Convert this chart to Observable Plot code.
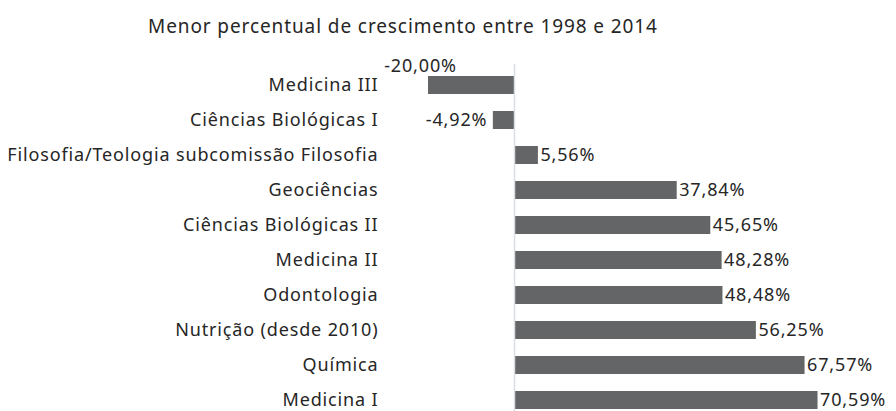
<!DOCTYPE html>
<html>
<head>
<meta charset="utf-8">
<script src="https://cdn.jsdelivr.net/npm/d3@7"></script>
<script src="https://cdn.jsdelivr.net/npm/@observablehq/plot@0.6"></script>
<style>
  html, body { margin: 0; padding: 0; background: #fff; overflow: hidden; }
  #title { font-family: "Noto Sans", sans-serif; font-size: 19px; letter-spacing: 0.9px; color: #262626; height: 50px; width: 896px; position: relative; }
  #title span { position: absolute; left: 148px; top: 13px; white-space: nowrap; }
  #chart svg text { letter-spacing: 0.85px; }
</style>
</head>
<body>
<div id="title"><span>Menor percentual de crescimento entre 1998 e 2014</span></div>
<div id="chart"></div>
<script>
const categories = [
  "Medicina III",
  "Ciências Biológicas I",
  "Filosofia/Teologia subcomissão Filosofia",
  "Geociências",
  "Ciências Biológicas II",
  "Medicina II",
  "Odontologia",
  "Nutrição (desde 2010)",
  "Química",
  "Medicina I"
];
const values = [-20.00, -4.92, 5.56, 37.84, 45.65, 48.28, 48.48, 56.25, 67.57, 70.59];

const data = categories.map((c, i) => ({category: c, value: values[i]}));
const fmt = v => v.toFixed(2).replace(".", ",") + "%";

const chart = Plot.plot({
  width: 896,
  height: 361,
  marginLeft: 380,
  marginTop: 14,
  marginBottom: 0,
  marginRight: 0,
  style: {fontFamily: "Noto Sans, sans-serif", fontSize: "18px", color: "#262626", background: "#fff"},
  x: {domain: [-25, 85], range: [406.5, 879.5], axis: null},
  y: {domain: categories, range: [14.75, 369.75], paddingInner: 0.49, paddingOuter: 0.245, label: null},
  marks: [
    Plot.barX(data, {x: "value", y: "category", fill: "#646566"}),
    Plot.ruleX([0], {stroke: "#d9dee6", strokeWidth: 1.5}),
    Plot.axisY({anchor: "left", tickSize: 0, tickPadding: 2, fontSize: 18, fill: "#262626", label: null}),
    Plot.text(data.filter(d => d.value >= 0), {x: "value", y: "category", text: d => fmt(d.value), textAnchor: "start", dx: 2, fill: "#262626", fontSize: 18}),
    Plot.text(data.filter(d => d.value < 0 && d.value > -10), {x: "value", y: "category", text: d => fmt(d.value), textAnchor: "end", dx: -6, fill: "#262626", fontSize: 18}),
    Plot.text(data.filter(d => d.value <= -10), {x: "value", y: "category", text: d => fmt(d.value), textAnchor: "middle", dx: -8, dy: -19, fill: "#262626", fontSize: 18})
  ]
});
document.getElementById("chart").appendChild(chart);
</script>
</body>
</html>
